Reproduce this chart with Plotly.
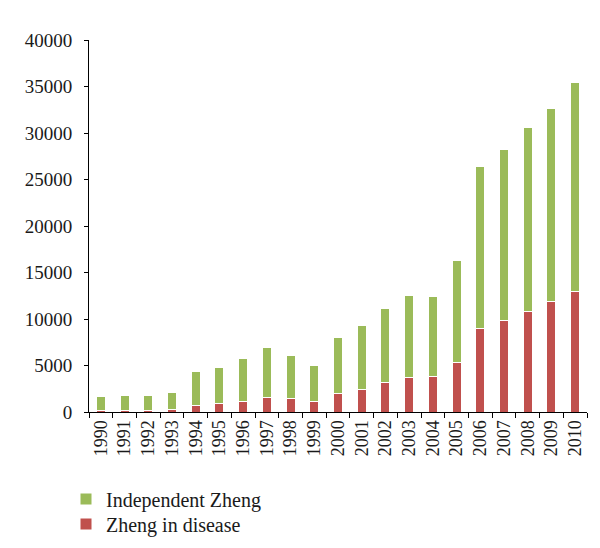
import plotly.graph_objects as go

years = [str(y) for y in range(1990, 2011)]
zheng_in_disease = [120, 200, 200, 300, 750, 930, 1180, 1600, 1420, 1120, 1990, 2420, 3170, 3720, 3850, 5350,
                    9000, 9850, 10860, 11900, 12940]
total = [1650, 1750, 1750, 2080, 4340, 4800, 5780, 6970, 6110, 4990, 8040, 9350, 11100, 12510, 12440, 16260,
         26380, 28190, 30600, 32650, 35450]
independent_zheng = [t - d for t, d in zip(total, zheng_in_disease)]
y_ticks = [0, 5000, 10000, 15000, 20000, 25000, 30000, 35000, 40000]

font_family = "Liberation Serif, Times New Roman, serif"

fig = go.Figure()
fig.add_trace(go.Bar(x=years, y=zheng_in_disease, name="Zheng in disease", legend="legend2",
                     marker=dict(color="#C0504D", line=dict(color="white", width=1))))
fig.add_trace(go.Bar(x=years, y=independent_zheng, name="Independent Zheng", legend="legend",
                     marker=dict(color="#9BBB59", line=dict(color="white", width=1))))

legend_common = dict(orientation="v", xanchor="left", yanchor="middle",
                     xref="container", yref="container", font=dict(size=20),
                     itemwidth=30, bgcolor="rgba(0,0,0,0)")

fig.update_layout(
    width=600, height=548,
    barmode="stack",
    bargap=0.62,
    paper_bgcolor="white", plot_bgcolor="white",
    margin=dict(l=81, r=21, t=32, b=144, autoexpand=False),
    font=dict(family=font_family, size=18, color="#1a1a1a"),
    legend=dict(x=58/600, y=1 - 491/548, **legend_common),
    legend2=dict(x=58/600, y=1 - 516/548, **legend_common),
    showlegend=True,
)
fig.update_xaxes(type="category", tickmode="array", tickvals=years, ticktext=years,
                 showline=True, linecolor="black", linewidth=1,
                 ticks="outside", tickson="boundaries", ticklen=5, tickcolor="black",
                 tickangle=-90, tickfont=dict(size=18), showgrid=False)
fig.update_yaxes(range=[0, 40000], tickmode="array", tickvals=y_ticks,
                 ticktext=[str(v) for v in y_ticks], showline=True, linecolor="black", linewidth=1,
                 ticks="outside", ticklen=4, tickcolor="black", tickfont=dict(size=19),
                 showgrid=False, zeroline=False, ticklabelstandoff=8)

fig.write_html("out.html")
